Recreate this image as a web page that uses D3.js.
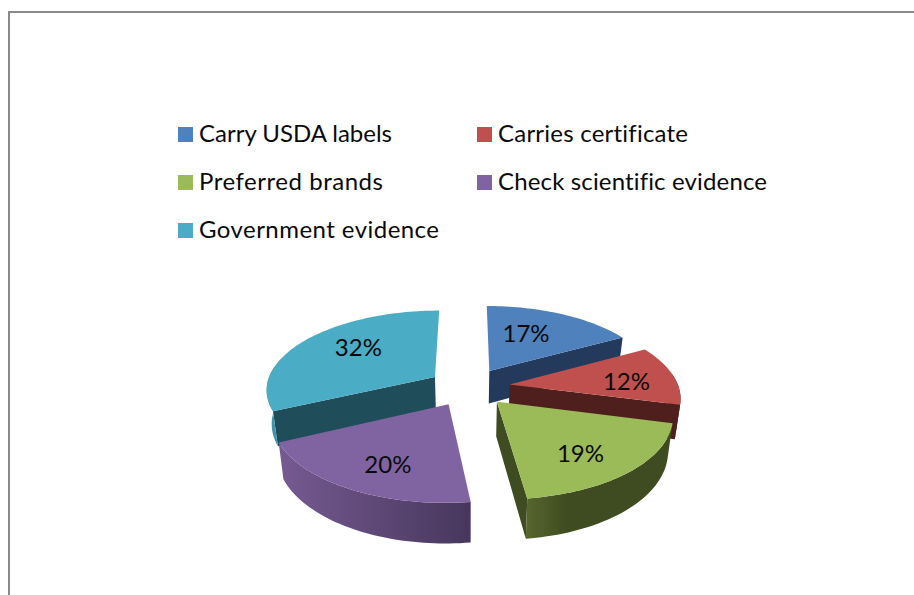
<!DOCTYPE html>
<html lang="en">
    <head>
        <meta charset="utf-8"/>
        <script src="https://d3js.org/d3.v7.min.js"></script>
        <style>
            html, body { margin: 0; padding: 0; background: #fff; overflow: hidden; }
            svg { display: block; }
            text { font-family: Lato, "Open Sans", sans-serif; fill: #0a0a0a; font-variant-ligatures: none; }
        </style>
    </head>
    <body>
        <main>
            <div id="chart"></div>
        </main>
    </body>
    <script>
        var categories = ["Carry USDA labels", "Carries certificate", "Preferred brands", "Check scientific evidence", "Government evidence"];
        var shares = [17, 12, 19, 20, 32];

        var topColors = ["#4f81bd", "#c0504d", "#9bbb59", "#8064a2", "#4bacc6"];
        var wallColors = ["#243a5c", "#4f1f1e", "#3f4b20", "#47375c", "#1f4d59"];
        var rimStartColors = ["#243a5c", "#4f1f1e", "#3f4b20", "#47375c", "#3f93aa"];
        var rimEndColors = ["#243a5c", "#4f1f1e", "#55662d", "#765a92", "#3f93aa"];
        var rimHold = [0, 0, 0.72, 0, 0];
        var legendWidths = [193, 190, 184, 269, 240];
        var labelReach = [0.48, 0.70, 0.70, 0.69, 0.63];
        var labelNudge = [[0, -8], [2, 4], [-6, 5], [5, 5], [6, -5]];
        var drawOrder = [0, 4, 1, 3, 2];

        var width = 914, height = 595;
        var cx = 469, cy = 387;
        var radiusX = 169, radiusY = 78.7, depth = 33.5;
        var perspective = 0.145, bottomShrink = 0.975, explode = 0.243;

        var svg = d3.select("#chart")
            .append("svg")
                .attr("width", width)
                .attr("height", height);

        var defs = svg.append("defs");

        // page frame, runs off the right and bottom edges
        svg.append("path")
            .attr("d", "M9,600V12H920")
            .attr("fill", "none")
            .attr("stroke", "#8a8a8a")
            .attr("stroke-width", 2);

        var color = d3.scaleOrdinal().domain(categories).range(topColors);

        var legendCol = d3.scalePoint().domain([0, 1]).range([178, 477]);
        var legendRow = d3.scalePoint().domain([0, 1, 2]).range([127, 223]);

        var legend = svg.selectAll("g.legend")
            .data(categories)
            .enter()
            .append("g")
                .attr("class", "legend")
                .attr("transform", function(d, i) { return "translate(" + legendCol(i % 2) + "," + legendRow(Math.floor(i / 2)) + ")"; });

        legend.append("rect")
            .attr("width", 15)
            .attr("height", 15)
            .attr("fill", function(d) { return color(d); });

        legend.append("text")
            .attr("x", 21)
            .attr("y", 15)
            .attr("textLength", function(d, i) { return legendWidths[i]; })
            .attr("lengthAdjust", "spacing")
            .style("font-size", "24px")
            .text(function(d) { return d; });

        // disc coordinates: u to the right, v towards the viewer, 1 = pie radius
        function project(u, v, lower) {
            var s = 1 / (1 - perspective * v);
            var x = radiusX * u * s;
            var y = radiusY * v * s;
            if (lower) {
                x *= bottomShrink;
                y += depth * s;
            }
            return [cx + x, cy + y];
        }

        function polar(a, r) {
            return [r * Math.sin(a), -r * Math.cos(a)];
        }

        var arcs = d3.pie().sort(null).startAngle(0).endAngle(2 * Math.PI)(shares);
        var line = d3.line();
        var step = Math.PI / 120;

        function rimPoint(d, a, lower) {
            var mid = (d.startAngle + d.endAngle) / 2;
            var o = polar(mid, explode), p = polar(a, 1);
            return project(o[0] + p[0], o[1] + p[1], lower);
        }

        function apex(d, lower) {
            var o = polar((d.startAngle + d.endAngle) / 2, explode);
            return project(o[0], o[1], lower);
        }

        // wall is visible when its outward normal clearly faces the camera
        function wallVisible(d, a, side) {
            var o = polar((d.startAngle + d.endAngle) / 2, explode);
            var n = polar(a + side * Math.PI / 2, 1);
            return n[0] * (0 - o[0]) + n[1] * (1 / perspective - o[1]) > 0.3;
        }

        var pieGroup = svg.append("g");

        drawOrder.forEach(function(i) {
            var d = arcs[i];
            var g = pieGroup.append("g");

            [[d.startAngle, -1], [d.endAngle, 1]].forEach(function(w) {
                if (!wallVisible(d, w[0], w[1])) return;
                g.append("path")
                    .attr("d", line([apex(d, false), rimPoint(d, w[0], false), rimPoint(d, w[0], true), apex(d, true)]) + "Z")
                    .attr("fill", wallColors[i]);
            });

            var steps = d3.range(d.startAngle, d.endAngle, step).concat([d.endAngle]);

            var grad = defs.append("linearGradient")
                .attr("id", "rim" + i)
                .attr("gradientUnits", "userSpaceOnUse")
                .attr("x1", rimPoint(d, d.startAngle, false)[0])
                .attr("x2", rimPoint(d, d.endAngle, false)[0])
                .attr("y1", 0)
                .attr("y2", 0);
            grad.append("stop").attr("offset", rimHold[i]).attr("stop-color", rimStartColors[i]);
            grad.append("stop").attr("offset", 1).attr("stop-color", rimEndColors[i]);

            // the back of the rim is hidden behind the top face
            var front = steps.filter(function(a) { return polar(a, 1)[1] > -0.15; });
            if (front.length > 1) {
                var rimTop = front.map(function(a) { return rimPoint(d, a, false); });
                var rimBottom = front.map(function(a) { return rimPoint(d, a, true); }).reverse();
                g.append("path")
                    .attr("d", line(rimTop.concat(rimBottom)) + "Z")
                    .attr("fill", "url(#rim" + i + ")");
            }

            var upper = steps.map(function(a) { return rimPoint(d, a, false); });
            g.append("path")
                .attr("d", line([apex(d, false)].concat(upper)) + "Z")
                .attr("fill", topColors[i]);
        });

        svg.selectAll("text.value")
            .data(arcs)
            .enter()
            .append("text")
                .attr("class", "value")
                .attr("text-anchor", "middle")
                .style("font-size", "24px")
                .attr("transform", function(d, i) {
                    var mid = (d.startAngle + d.endAngle) / 2;
                    var o = polar(mid, explode), p = polar(mid, labelReach[i]);
                    var pos = project(o[0] + p[0], o[1] + p[1], false);
                    return "translate(" + (pos[0] + labelNudge[i][0]) + "," + (pos[1] + 8 + labelNudge[i][1]) + ")";
                })
                .text(function(d) { return d.data + "%"; });
    </script>
</html>
